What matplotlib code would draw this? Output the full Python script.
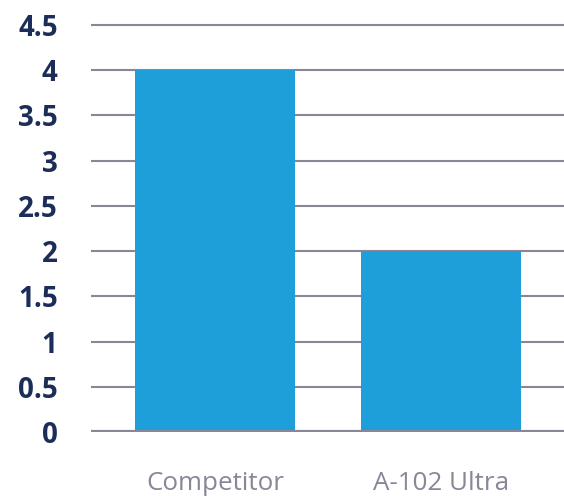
import matplotlib.pyplot as plt

categories = ['Competitor', 'A-102 Ultra']
values = [4, 2]
yticks = [0, 0.5, 1, 1.5, 2, 2.5, 3, 3.5, 4, 4.5]
ytick_labels = ['0', '0.5', '1', '1.5', '2', '2.5', '3', '3.5', '4', '4.5']

plt.rcParams['font.family'] = ['Open Sans', 'DejaVu Sans']

fig = plt.figure(figsize=(5.64, 4.98), dpi=100)
ax = fig.add_axes([91 / 564, 66 / 498, 1 - 91 / 564, 411.5 / 498])

x = range(len(categories))
ax.bar(x, values, width=0.708, color='#1e9fd9', zorder=3)

ax.set_ylim(0, 4.55)
ax.set_xlim(-0.549, 1.544)
ax.set_yticks(yticks)
ax.set_yticklabels(ytick_labels, fontsize=20, fontweight='bold', color='#1b2d58')
ax.set_xticks(list(x))
ax.set_xticklabels(categories, fontsize=18.7, color='#8a8698')
ax.tick_params(axis='y', length=0, pad=24)
ax.tick_params(axis='x', length=0, pad=28)

ax.yaxis.grid(True, color='#8a8698', linewidth=1.5, zorder=0)
ax.axhline(0, color='#8a8698', linewidth=3, zorder=4)
for s in ax.spines.values():
    s.set_visible(False)

fig.savefig('out.png', dpi=100)
